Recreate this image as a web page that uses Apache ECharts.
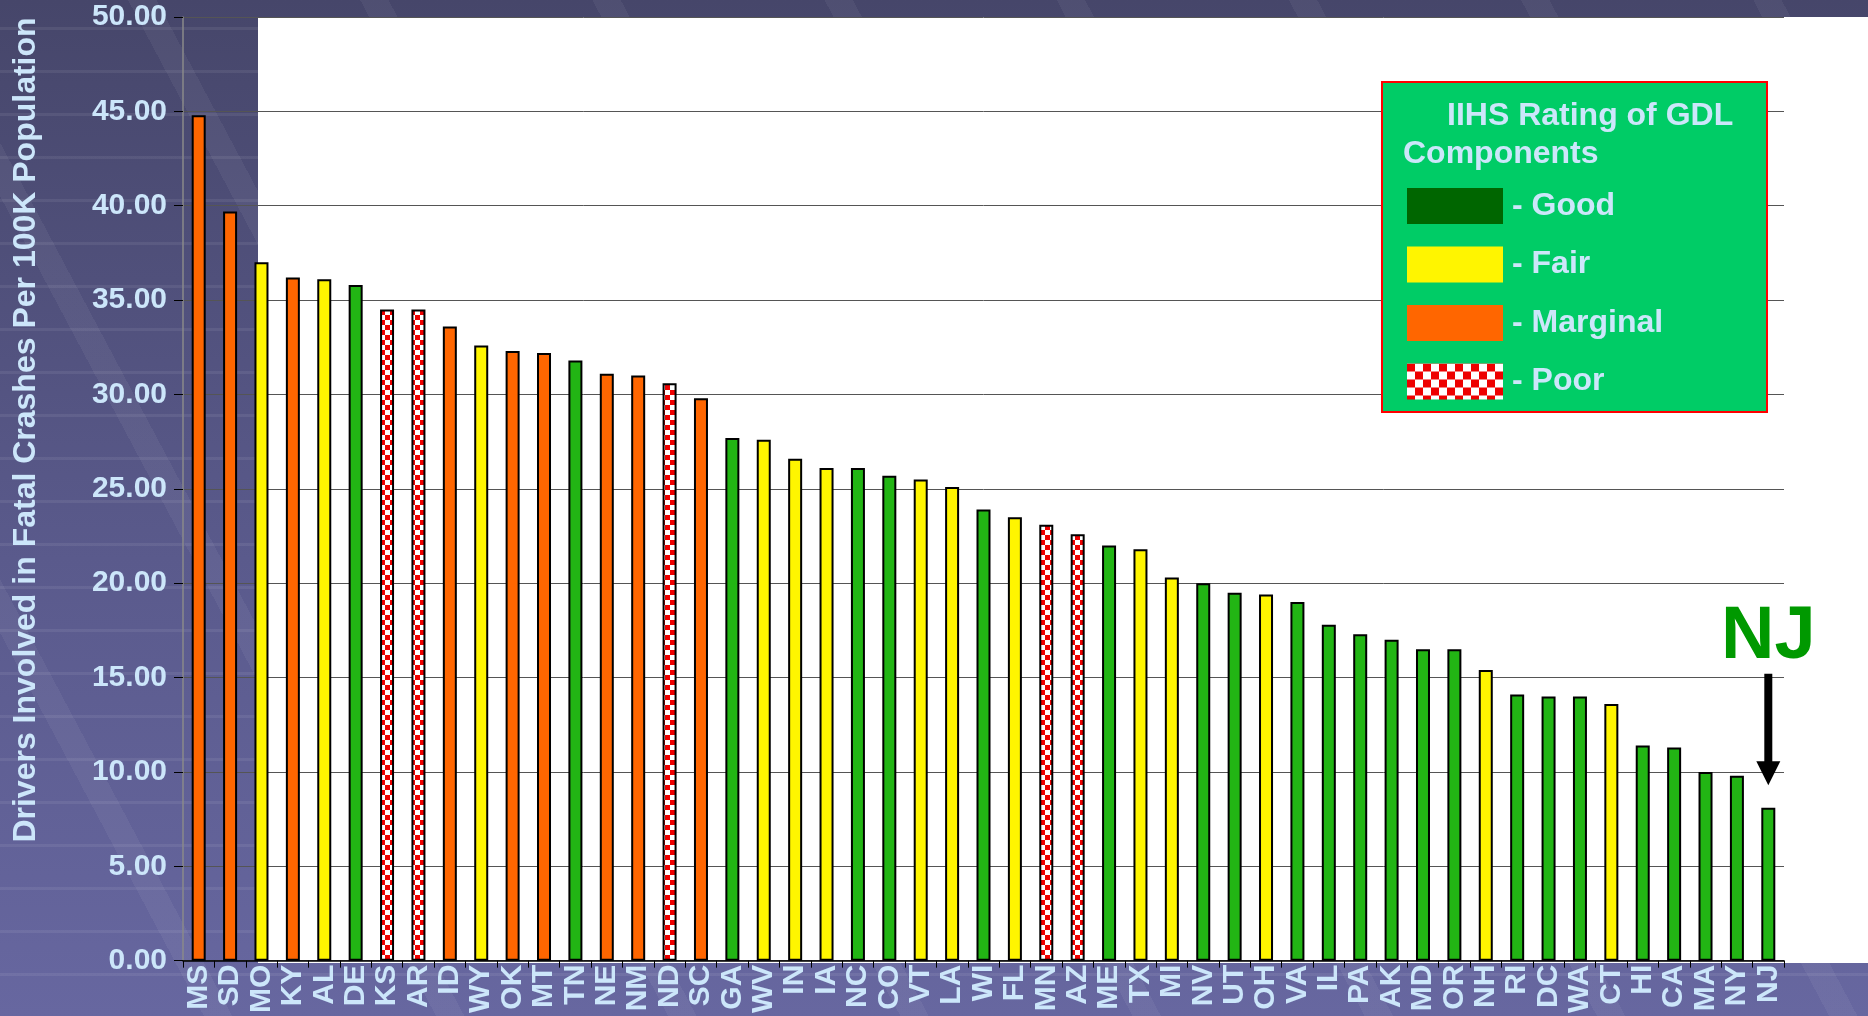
<!DOCTYPE html>
<html>
<head>
<meta charset="utf-8">
<script src="https://cdn.jsdelivr.net/npm/echarts@6/dist/echarts.min.js"></script>
<style>
  html, body { margin: 0; padding: 0; }
  #wrap {
    position: relative; width: 1868px; height: 1016px; overflow: hidden;
    background:
      repeating-linear-gradient(0deg, rgba(255,255,255,0) 0 40px, rgba(255,255,255,0.07) 40px 43px),
      repeating-linear-gradient(62deg, rgba(255,255,255,0) 0 180px, rgba(255,255,255,0.05) 180px 205px),
      linear-gradient(#46466a, #5a5a8c 55%, #6767a0);
  }
  #paper { position: absolute; left: 258px; top: 17px; right: 0; height: 946px; background: #fff; }
  #chart { position: absolute; left: 0; top: 0; width: 1868px; height: 1016px; }
</style>
</head>
<body>
<div id="wrap">
  <div id="paper"></div>
  <div id="chart"></div>
</div>
<script>
var states = ['MS', 'SD', 'MO', 'KY', 'AL', 'DE', 'KS', 'AR', 'ID', 'WY', 'OK', 'MT', 'TN', 'NE', 'NM', 'ND', 'SC',
  'GA', 'WV', 'IN', 'IA', 'NC', 'CO', 'VT', 'LA', 'WI', 'FL', 'MN', 'AZ', 'ME', 'TX', 'MI', 'NV', 'UT', 'OH', 'VA', 'IL',
  'PA', 'AK', 'MD', 'OR', 'NH', 'RI', 'DC', 'WA', 'CT', 'HI', 'CA', 'MA', 'NY', 'NJ'];
var rates = [44.8, 39.7, 37.0, 36.2, 36.1, 35.8, 34.5, 34.5, 33.6, 32.6, 32.3, 32.2, 31.8, 31.1, 31.0, 30.6, 29.8,
  27.7, 27.6, 26.6, 26.1, 26.1, 25.7, 25.5, 25.1, 23.9, 23.5, 23.1, 22.6, 22.0, 21.8, 20.3, 20.0, 19.5, 19.4, 19.0, 17.8,
  17.3, 17.0, 16.5, 16.5, 15.4, 14.1, 14.0, 14.0, 13.6, 11.4, 11.3, 10.0, 9.8, 8.1];
// G = good, F = fair, M = marginal, P = poor
var ratings = ['M', 'M', 'F', 'M', 'F', 'G', 'P', 'P', 'M', 'F', 'M', 'M', 'G', 'M', 'M', 'P', 'M',
  'G', 'F', 'F', 'F', 'G', 'G', 'F', 'F', 'G', 'F', 'P', 'P', 'G', 'F', 'F', 'G', 'G', 'F', 'G', 'G',
  'G', 'G', 'G', 'G', 'F', 'G', 'G', 'G', 'F', 'G', 'G', 'G', 'G', 'G'];
var ratingCodes = ['G', 'F', 'M', 'P'];
var ratingNames = ['Good', 'Fair', 'Marginal', 'Poor'];
var yTicks = { min: 0, max: 50, step: 5 };

var labelBlue = '#cce6fa';
var font = '"Liberation Sans", Arial, sans-serif';

function checker(size) {
  var c = document.createElement('canvas');
  c.width = c.height = size * 2;
  var g = c.getContext('2d');
  g.fillStyle = '#fff';
  g.fillRect(0, 0, size * 2, size * 2);
  g.fillStyle = '#ee0000';
  g.fillRect(0, 0, size, size);
  g.fillRect(size, size, size, size);
  return { image: c, repeat: 'repeat' };
}

var barColors = { G: '#22b514', F: '#fff500', M: '#ff6600', P: checker(5) };

var series = ratingCodes.map(function(code, k) {
  return {
    name: ratingNames[k], type: 'bar', stack: 'all', barWidth: 14,
    data: rates.map(function(v, i) { return ratings[i] === code ? v : '-'; }),
    itemStyle: { color: barColors[code], borderColor: '#000', borderWidth: 2 }
  };
});

var chart = echarts.init(document.getElementById('chart'));
chart.setOption({
  animation: false,
  textStyle: { fontFamily: font },
  grid: { left: 183, right: 84, top: 17, bottom: 53 },
  legend: {
    left: 1407, top: 178, orient: 'vertical', padding: 0,
    itemWidth: 96, itemHeight: 36, itemGap: 2.5, icon: 'rect',
    itemStyle: { borderWidth: 0 },
    formatter: '- {name}',
    textStyle: { color: labelBlue, fontSize: 32, fontWeight: 'bold', lineHeight: 36, padding: [20, 0, 0, 4] },
    data: [
      { name: 'Good', itemStyle: { color: '#006600' } },
      'Fair', 'Marginal',
      { name: 'Poor', itemStyle: { color: checker(8) } }
    ]
  },
  xAxis: {
    type: 'category', data: states,
    axisLine: { lineStyle: { color: '#000', width: 1.5 } },
    axisTick: { show: true, length: 7, interval: 0, lineStyle: { color: '#000' } },
    axisLabel: { rotate: 90, interval: 0, margin: 4, color: labelBlue, fontSize: 30, fontWeight: 'bold' }
  },
  yAxis: {
    type: 'value', min: yTicks.min, max: yTicks.max, interval: yTicks.step,
    axisLine: { show: true, lineStyle: { color: '#8a8a8a', width: 1.5 } },
    axisTick: { show: true, length: 9, lineStyle: { color: '#000' } },
    axisLabel: { margin: 16, color: labelBlue, fontSize: 30, fontWeight: 'bold', padding: [8, 0, 0, 0],
      formatter: function(v) { return v.toFixed(2); } },
    splitLine: { lineStyle: { color: '#555', width: 1 } }
  },
  series: series
});

// annotations positioned from the NJ bar
var njMid = chart.convertToPixel({ gridIndex: 0 }, ['NJ', 17.1]);
var arrTop = chart.convertToPixel({ gridIndex: 0 }, ['NJ', 15.2]);
var arrTip = chart.convertToPixel({ gridIndex: 0 }, ['NJ', 9.3]);

chart.setOption({
  graphic: [
    { type: 'text', x: 26, y: 430, rotation: Math.PI / 2, z: 10,
      style: { text: 'Drivers Involved in Fatal Crashes Per 100K Population', fill: labelBlue,
        font: 'bold 32px ' + font, textAlign: 'center', textVerticalAlign: 'middle' } },
    { type: 'rect', z: 1, shape: { x: 1382, y: 82, width: 385, height: 330 },
      style: { fill: '#00cc66', stroke: '#ff0000', lineWidth: 2 } },
    { type: 'text', x: 1447, y: 116, z: 10,
      style: { text: 'IIHS Rating of GDL', fill: labelBlue, font: 'bold 32px ' + font, textVerticalAlign: 'middle' } },
    { type: 'text', x: 1403, y: 154, z: 10,
      style: { text: 'Components', fill: labelBlue, font: 'bold 32px ' + font, textVerticalAlign: 'middle' } },
    { type: 'text', x: njMid[0], y: njMid[1], z: 10,
      style: { text: 'NJ', fill: '#009900', font: 'bold 74px ' + font, textAlign: 'center', textVerticalAlign: 'middle' } },
    { type: 'rect', z: 10, shape: { x: arrTop[0] - 4, y: arrTop[1], width: 8, height: arrTip[1] - arrTop[1] - 22 },
      style: { fill: '#000' } },
    { type: 'polygon', z: 10,
      shape: { points: [[arrTip[0] - 12, arrTip[1] - 24], [arrTip[0] + 12, arrTip[1] - 24], [arrTip[0], arrTip[1]]] },
      style: { fill: '#000' } }
  ]
});
</script>
</body>
</html>
